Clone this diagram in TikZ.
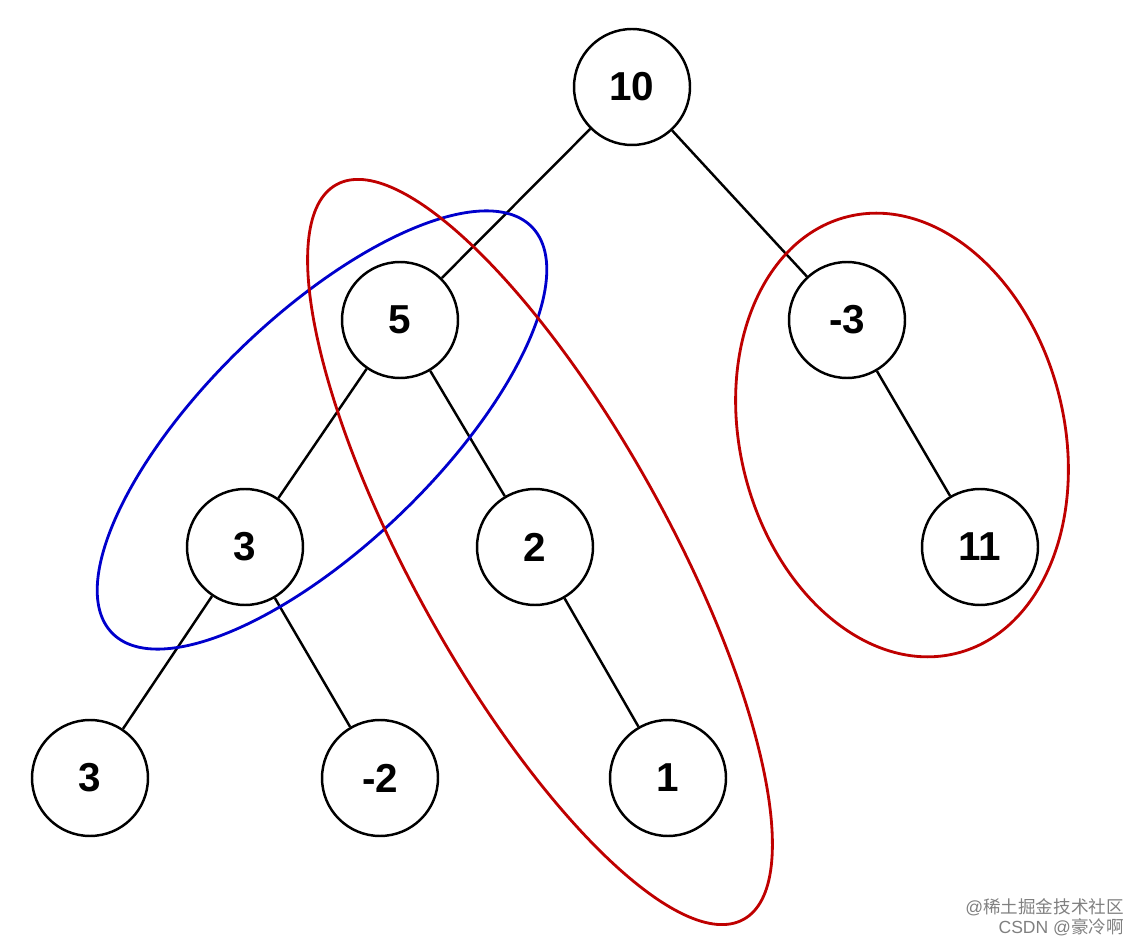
\documentclass[tikz,border=0pt]{standalone}
\usepackage{fontspec}
\setmainfont{Liberation Sans}
\newfontfamily\cjk{Noto Sans CJK SC}
\begin{document}
\begin{tikzpicture}[x=0.02cm,y=-0.02cm,
  tn/.style={circle,draw,line width=1.4pt,minimum size=2.32cm,inner sep=0pt,font=\fontsize{23}{23}\selectfont\bfseries},
  ed/.style={line width=1.4pt},
  ring/.style={line width=1.6pt}]
\useasboundingbox (0,0) rectangle (1140,942);
\node[tn] (n10) at (632,87) {10};
\node[tn] (n5) at (400,320) {5};
\node[tn] (nm3) at (847,320) {-3};
\node[tn] (n3) at (245,547) {3};
\node[tn] (n2) at (535,547) {2};
\node[tn] (n11) at (980,547) {11};
\node[tn] (n3b) at (90,778) {3};
\node[tn] (nm2) at (380,778) {-2};
\node[tn] (n1) at (668,778) {1};
\draw[ed] (n10)--(n5); \draw[ed] (n10)--(nm3);
\draw[ed] (n5)--(n3); \draw[ed] (n5)--(n2);
\draw[ed] (nm3)--(n11);
\draw[ed] (n3)--(n3b); \draw[ed] (n3)--(nm2);
\draw[ed] (n2)--(n1);
\draw[ring,blue!80!black] (322,430) ellipse[x radius=292,y radius=115,rotate=44];
\draw[ring,red!75!black] (540,552) ellipse[x radius=420,y radius=128,rotate=-61];
\draw[ring,red!75!black] (902,435) ellipse[x radius=225,y radius=162,rotate=-76];
\node[text=gray,anchor=east,font=\fontsize{10}{10}\selectfont] (w1) at (1130,907) {@{\cjk 稀土掘金技术社区}};
\node[text=gray,anchor=east,font=\fontsize{10}{10}\selectfont] (w2) at (1130,927) {CSDN @{\cjk 豪冷啊}};
\end{tikzpicture}
\end{document}
